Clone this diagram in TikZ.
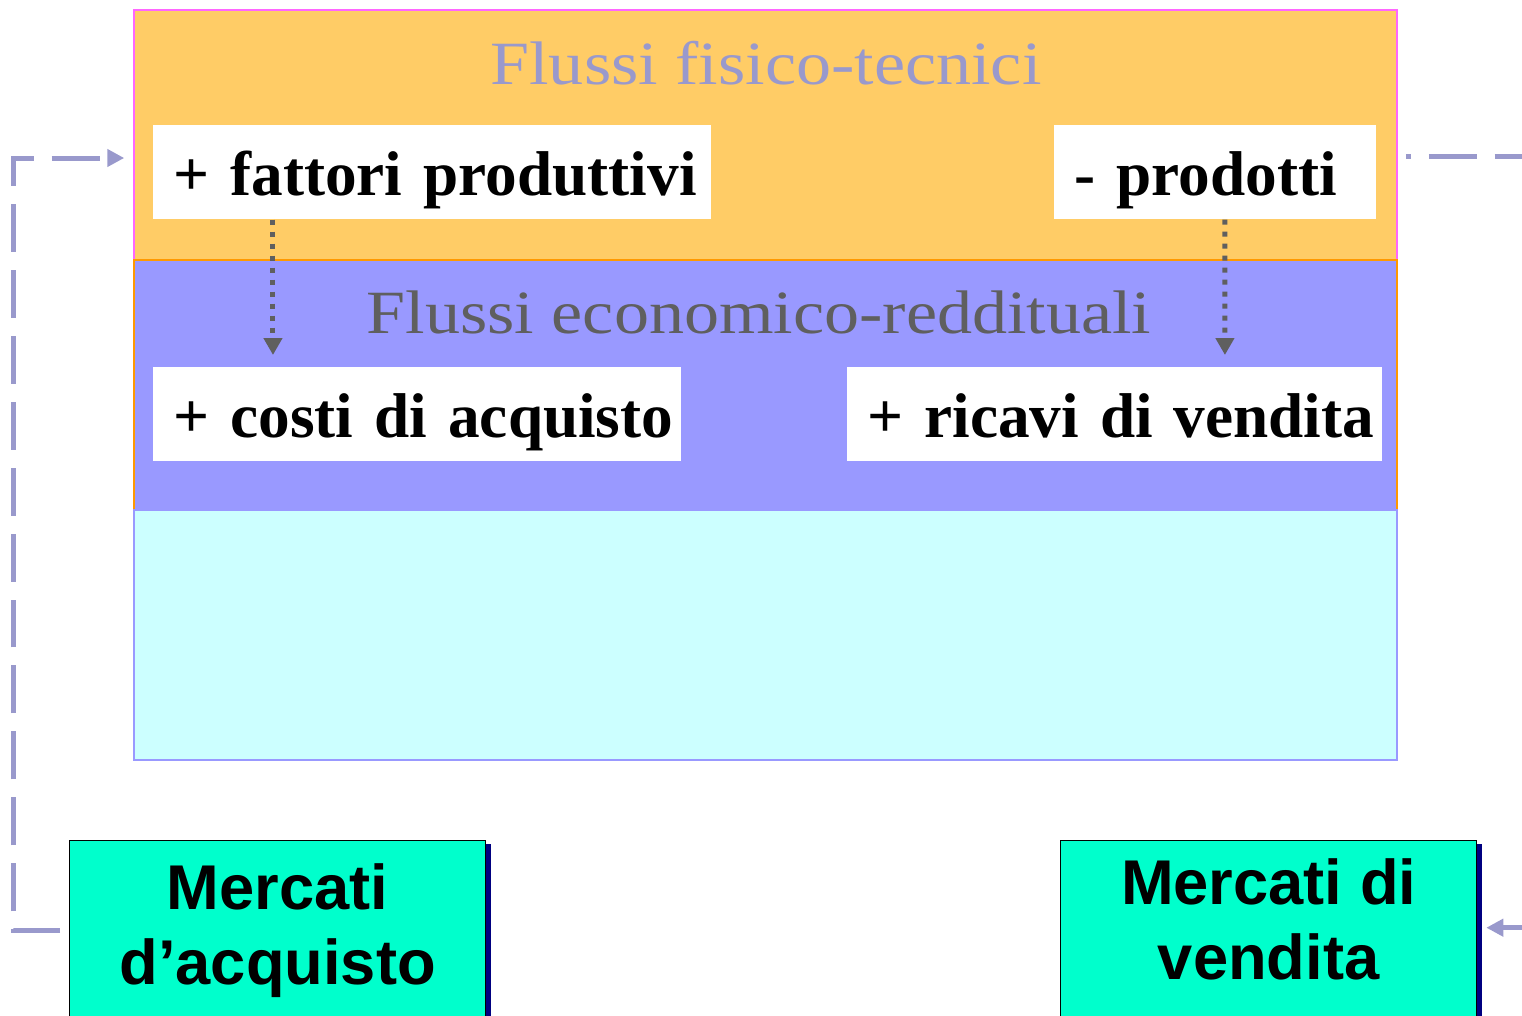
\documentclass[tikz,border=0pt]{standalone}
\usepackage{fontspec}
\setmainfont{Liberation Serif}
\newfontfamily\titlefont[FakeStretch=1.14]{Liberation Serif}
\newfontfamily\marketfont{Liberation Sans}
\usetikzlibrary{positioning,calc,arrows.meta,shadows}
\newcommand\tightspace{\fontdimen2\font=6.5pt\relax}

\definecolor{fisicofill}{HTML}{FFCC66}
\definecolor{fisicoline}{HTML}{FF66FF}
\definecolor{econfill}{HTML}{9999FF}
\definecolor{econline}{HTML}{FF9900}
\definecolor{patrfill}{HTML}{CCFFFF}
\definecolor{patrline}{HTML}{9999FF}
\definecolor{fisicotitle}{HTML}{9999CC}
\definecolor{econtitle}{HTML}{5F5F5F}
\definecolor{marketfill}{HTML}{00FFCC}
\definecolor{marketshadow}{HTML}{000080}
\definecolor{linkcolor}{HTML}{9999CC}

\begin{document}
\begin{tikzpicture}[x=0.02cm,y=-0.02cm,
    layer/.style={rectangle, minimum width=25.26cm, minimum height=5cm, line width=1pt, inner sep=0pt},
    flowbox/.style={rectangle, fill=white, anchor=north west, inner ysep=0pt, text height=1.4cm, text depth=0.48cm, inner xsep=0.4cm, align=left, font=\fontsize{36}{43}\selectfont\bfseries},
    title/.style={anchor=base, font=\titlefont\fontsize{35}{43}\selectfont},
    market/.style={rectangle, draw=black, line width=0.8pt, fill=marketfill, anchor=north west, minimum width=8.32cm, minimum height=3.6cm, align=center, font=\marketfont\fontsize{36}{43}\selectfont\bfseries, general shadow={fill=marketshadow, shadow xshift=0.1cm, shadow yshift=-0.06cm}},
    linkarrow/.style={draw=linkcolor, line width=0.1cm, dash pattern=on 0.96cm off 0.36cm, -{Triangle[length=0.34cm,width=0.34cm]}},
    dotarrow/.style={draw=econtitle, line width=0.1cm, dash pattern=on 0.1cm off 0.14cm, -{Triangle[length=0.34cm,width=0.36cm]}}]
    \useasboundingbox (0,0) rectangle (1522,1015);
    \clip (0,0) rectangle (1522,1015);

    % the three layers
    \node[layer, fill=fisicofill, draw=fisicoline] (fisici) at (765.5,135) {};
    \node[layer, fill=econfill, draw=econline] (econ) at (765.5,385) {};
    \node[layer, fill=patrfill, draw=patrline] (patr) at (765.5,635) {};

    \node[title, text=fisicotitle] (titfisici) at (766,84) {Flussi fisico-tecnici};
    \node[title, text=econtitle] (titecon) at (759,333) {Flussi economico-reddituali};

    \node[flowbox, text width=10.36cm] (fattori) at (153,125) {\tightspace\mbox{+ fattori produttivi}};
    \node[flowbox, text width=5.64cm] (prodotti) at (1054,125) {\tightspace\mbox{- prodotti}};
    \node[flowbox, text width=9.76cm] (costi) at (153,367) {\tightspace\mbox{+ costi di acquisto}};
    \node[flowbox, text width=9.9cm] (ricavi) at (847,367) {\tightspace\mbox{+ ricavi di vendita}};

    \draw[dotarrow] ([xshift=2.4cm]fattori.south west) -- ([xshift=2.4cm,yshift=0.24cm]costi.north west);
    \draw[dotarrow] ([xshift=3.42cm]prodotti.south west) -- ([xshift=7.56cm,yshift=0.24cm]ricavi.north west);

    % markets
    \node[market] (acquisto) at (69,840) {Mercati\\d’acquisto};
    \node[market] (vendita) at (1060,840) {Mercati di\\vendita\rule[-0.47cm]{0pt}{0pt}};

    \draw[linkarrow] ([xshift=-0.18cm]acquisto.west) -| ([xshift=-2.4cm,yshift=-0.46cm]fisici.west) -- ([xshift=-0.18cm,yshift=-0.46cm]fisici.west);
    \draw[linkarrow, dash phase=0.86cm] ([xshift=0.16cm,yshift=-0.42cm]fisici.east) -- ++(3cm,0) |- ([xshift=0.18cm,yshift=0.06cm]vendita.east);
\end{tikzpicture}
\end{document}
